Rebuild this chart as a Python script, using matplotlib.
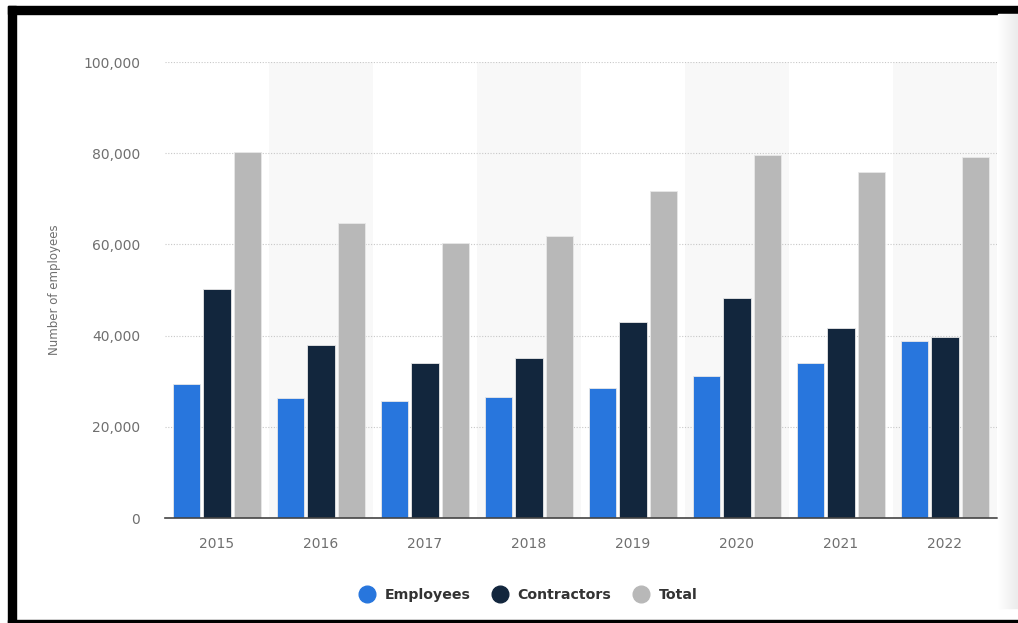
import numpy as np
import matplotlib
matplotlib.use('Agg')
import matplotlib.pyplot as plt
from matplotlib.patches import Rectangle
from matplotlib.lines import Line2D
from matplotlib.ticker import FuncFormatter

years = ['2015', '2016', '2017', '2018', '2019', '2020', '2021', '2022']
employees = [29300, 26300, 25700, 26600, 28400, 31100, 34100, 38900]
contractors = [50300, 38000, 34100, 35000, 43000, 48200, 41600, 39800]
total = [80300, 64700, 60200, 61900, 71800, 79700, 75800, 79100]

series = [('Employees', employees, '#2876dd'),
          ('Contractors', contractors, '#12263d'),
          ('Total', total, '#b8b8b8')]

W, H = 1018, 623
fig = plt.figure(figsize=(W / 100, H / 100), dpi=100)
fig.patch.set_facecolor('white')

# frame of the screenshot
fig.patches.append(Rectangle((8 / W, 0), 8 / W, 1 - 6 / H, transform=fig.transFigure, color='black', zorder=0))
fig.patches.append(Rectangle((8 / W, 1 - 14 / H), 1 - 8 / W, 8 / H, transform=fig.transFigure, color='black', zorder=0))
fig.patches.append(Rectangle((8 / W, 0), 1 - 8 / W, 3 / H, transform=fig.transFigure, color='black', zorder=0))
for i in range(20):
    fig.patches.append(Rectangle(((998 + i) / W, 15 / H), 1 / W, 1 - 18 / H - 14 / H + 3 / H,
                                 transform=fig.transFigure, color=str(1 - 0.004 * i), zorder=0))

ax = fig.add_axes([165 / W, (H - 518) / H, (997 - 165) / W, (518 - 62) / H])
x = np.arange(len(years))
bw = 0.26
gap = 0.03
for i in range(len(years)):
    if i % 2 == 1:
        ax.axvspan(i - 0.5, i + 0.5, color='#f8f8f8', zorder=0, lw=0)
for j, (name, vals, col) in enumerate(series):
    ax.bar(x + (j - 1) * (bw + gap), vals, bw, color=col, edgecolor='#e8e8e8', lw=0.6, zorder=3)

ax.set_xlim(-0.5, len(years) - 0.5)
ax.set_ylim(0, 100000)
ax.set_yticks(range(0, 100001, 20000))
ax.yaxis.set_major_formatter(FuncFormatter(lambda v, p: f'{int(v):,}'))
ax.set_xticks(x)
ax.set_xticklabels(years)
ax.grid(axis='y', color='#c8c8c8', ls=(0, (1, 1.5)), lw=0.8, zorder=1)
for s in ['top', 'right', 'left']:
    ax.spines[s].set_visible(False)
ax.spines['bottom'].set_color('#444444')
ax.spines['bottom'].set_linewidth(1.2)
ax.spines['bottom'].set_zorder(4)
ax.tick_params(axis='both', length=0, labelcolor='#6f6f6f', labelsize=10)
ax.tick_params(axis='y', pad=18)
ax.tick_params(axis='x', pad=14)
ax.set_facecolor('none')
ax.set_ylabel('Number of employees', color='#6f6f6f', fontsize=8.5, labelpad=16)

handles = [Line2D([], [], marker='o', ls='', ms=12, color=c, label=n) for n, _, c in series]
leg = fig.legend(handles=handles, loc='center', bbox_to_anchor=(525 / W, (H - 595) / H), ncol=3, frameon=False,
                 fontsize=10.2, handletextpad=0.25, columnspacing=1.1, labelcolor='#333333')
for t in leg.get_texts():
    t.set_fontweight('semibold')

fig.savefig('out.png', dpi=100)
